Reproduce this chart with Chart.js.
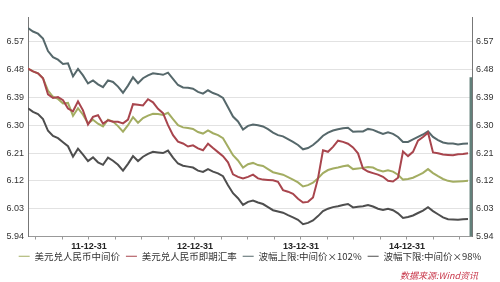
<!DOCTYPE html>
<html>
<head>
<meta charset="utf-8">
<script src="https://cdn.jsdelivr.net/npm/chart.js@4.4.1/dist/chart.umd.min.js"></script>
<style>
  html, body { margin: 0; padding: 0; background: #fff; }
  #wrap { width: 500px; height: 282px; position: relative; }
</style>
</head>
<body>
<div id="wrap"><canvas id="myChart"></canvas></div>
<script>
// x is counted in months from 2011-01, one sample about every 17 days
const firstMonth = 5.1;
const monthStep = 0.566;
const lastMonth = 55.36;

const seriesNames = ['美元兑人民币中间价', '美元兑人民币即期汇率', '波幅上限:中间价×102%', '波幅下限:中间价×98%'];

const midValues = [6.483,6.474,6.468,6.452,6.412,6.392,6.385,6.370,6.372,6.330,6.355,6.334,6.306,6.318,6.305,6.296,6.318,6.312,6.297,6.279,
  6.300,6.326,6.308,6.323,6.331,6.337,6.336,6.333,6.340,6.320,6.300,6.293,6.291,6.288,6.278,6.273,6.283,6.274,6.268,6.258,
  6.230,6.203,6.186,6.163,6.174,6.178,6.171,6.168,6.158,6.148,6.144,6.140,6.132,6.124,6.115,6.102,6.106,6.114,6.128,6.145,
  6.155,6.160,6.163,6.167,6.170,6.158,6.160,6.162,6.165,6.163,6.155,6.150,6.154,6.150,6.140,6.124,6.126,6.130,6.138,6.146,
  6.158,6.145,6.135,6.126,6.120,6.117,6.118,6.119,6.120];

const spotValues = [6.483,6.474,6.468,6.452,6.400,6.388,6.391,6.381,6.354,6.345,6.377,6.348,6.302,6.327,6.332,6.305,6.316,6.311,6.311,6.306,
  6.318,6.368,6.366,6.364,6.384,6.374,6.353,6.339,6.300,6.268,6.247,6.241,6.231,6.235,6.225,6.219,6.240,6.226,6.213,6.200,
  6.180,6.141,6.133,6.128,6.133,6.140,6.128,6.124,6.123,6.122,6.117,6.090,6.085,6.078,6.062,6.050,6.052,6.066,6.128,6.219,
  6.214,6.230,6.250,6.246,6.240,6.228,6.209,6.160,6.150,6.145,6.140,6.133,6.120,6.118,6.130,6.215,6.200,6.214,6.250,6.262,
  6.276,6.212,6.209,6.205,6.204,6.203,6.206,6.207,6.209];

const upperValues = [6.614,6.603,6.596,6.580,6.540,6.520,6.512,6.498,6.500,6.458,6.482,6.461,6.435,6.445,6.432,6.423,6.445,6.440,6.425,6.405,
  6.428,6.455,6.436,6.452,6.461,6.468,6.466,6.463,6.470,6.450,6.430,6.422,6.421,6.418,6.408,6.402,6.413,6.404,6.398,6.388,
  6.358,6.328,6.312,6.286,6.298,6.302,6.300,6.296,6.287,6.276,6.268,6.264,6.255,6.246,6.236,6.222,6.226,6.236,6.250,6.266,
  6.276,6.283,6.287,6.290,6.292,6.279,6.280,6.280,6.288,6.285,6.278,6.272,6.277,6.272,6.262,6.246,6.246,6.254,6.262,6.270,
  6.280,6.262,6.252,6.244,6.241,6.241,6.238,6.240,6.241];

const lowerValues = [6.355,6.343,6.336,6.320,6.282,6.265,6.258,6.245,6.232,6.198,6.224,6.205,6.184,6.196,6.180,6.172,6.195,6.185,6.172,6.153,
  6.175,6.200,6.184,6.198,6.207,6.214,6.212,6.210,6.218,6.195,6.176,6.169,6.166,6.163,6.153,6.149,6.158,6.150,6.144,6.135,
  6.106,6.080,6.064,6.042,6.052,6.056,6.050,6.045,6.035,6.025,6.021,6.017,6.009,6.002,5.994,5.980,5.984,5.992,6.006,6.022,
  6.030,6.035,6.038,6.042,6.045,6.034,6.036,6.038,6.042,6.037,6.030,6.026,6.030,6.025,6.015,6.000,6.003,6.008,6.016,6.024,
  6.035,6.022,6.012,6.002,5.996,5.995,5.994,5.996,5.997];

// the tall bar at the right edge of the picture
const edgeMonth = 55.25;
const edgeValues = [6.455, 5.94];

const yTicks = [5.94, 6.03, 6.12, 6.21, 6.30, 6.39, 6.48, 6.57];
const quarterMonths = [6, 9, 12, 15, 18, 21, 24, 27, 30, 33, 36, 39, 42, 45, 48, 51, 54];
const yearEndMonths = [12, 24, 36, 48];
const yearEndLabels = ['11-12-31', '12-12-31', '13-12-31', '14-12-31'];

const months = midValues.map((v, i) => firstMonth + i * monthStep);
const toPoints = (vals) => vals.map((v, i) => ({ x: months[i], y: v }));

const colors = ['#a3ad62', '#a8454d', '#56686b', '#4e4e4e'];

const sourceNote = {
  id: 'sourceNote',
  afterLayout(chart) {
    // pull the legend row up, closer to the date labels
    chart.legend.top -= 7;
    chart.legend.bottom -= 7;
  },
  afterDraw(chart) {
    const { ctx, chartArea } = chart;
    ctx.save();
    ctx.font = 'italic 9px "Noto Sans CJK SC"';
    ctx.fillStyle = '#c8374a';
    ctx.textAlign = 'right';
    ctx.textBaseline = 'middle';
    ctx.fillText('数据来源:Wind资讯', chartArea.right + 6, chart.height - 6);
    ctx.restore();
  }
};

const yAxis = (pos) => ({
  type: 'linear',
  position: pos,
  min: 5.94,
  max: 6.65,
  afterBuildTicks: (s) => { s.ticks = yTicks.map(v => ({ value: v })); },
  afterFit: (s) => { s.width = 28; },
  border: { color: '#777', width: 1 },
  grid: { color: '#e2e2e2', drawTicks: false, drawOnChartArea: pos === 'left' },
  ticks: {
    padding: 4,
    color: '#333',
    font: { family: 'Liberation Sans', size: 9 },
    callback: (v) => v.toFixed(2)
  }
});

const ctx = document.getElementById('myChart').getContext('2d');
new Chart(ctx, {
  type: 'line',
  data: {
    datasets: [
      { label: seriesNames[0], data: toPoints(midValues), borderColor: colors[0], backgroundColor: colors[0], order: 2 },
      { label: seriesNames[1], data: toPoints(spotValues), borderColor: colors[1], backgroundColor: colors[1], order: 1 },
      { label: seriesNames[2], data: toPoints(upperValues), borderColor: colors[2], backgroundColor: colors[2], order: 3 },
      { label: seriesNames[3], data: toPoints(lowerValues), borderColor: colors[3], backgroundColor: colors[3], order: 4 },
      { label: 'edge', data: edgeValues.map(v => ({ x: edgeMonth, y: v })), borderColor: '#62807a', backgroundColor: '#62807a', borderWidth: 3, order: 5 }
    ]
  },
  options: {
    responsive: true,
    maintainAspectRatio: false,
    animation: false,
    layout: { padding: { top: 17, left: 0, right: 0, bottom: 4 } },
    elements: {
      point: { radius: 0 },
      line: { borderWidth: 2, tension: 0 }
    },
    scales: {
      x: {
        type: 'linear',
        min: firstMonth,
        max: lastMonth,
        afterBuildTicks: (s) => { s.ticks = quarterMonths.map(v => ({ value: v })); },
        afterFit: (s) => { s.height = 16; },
        border: { color: '#999', width: 1 },
        grid: { drawOnChartArea: false, drawTicks: true, tickLength: 3, color: '#999' },
        ticks: {
          autoSkip: false,
          maxRotation: 0,
          padding: 2,
          color: '#222',
          font: { family: 'Liberation Sans', size: 9, weight: 'bold' },
          callback: (v) => {
            const k = yearEndMonths.indexOf(v);
            return k >= 0 ? yearEndLabels[k] : '';
          }
        }
      },
      y: yAxis('left'),
      y2: yAxis('right')
    },
    plugins: {
      legend: {
        position: 'bottom',
        labels: {
          filter: (item) => item.datasetIndex < 4,
          sort: (a, b) => a.datasetIndex - b.datasetIndex,
          usePointStyle: true,
          pointStyle: 'line',
          pointStyleWidth: 11,
          padding: 6,
          color: '#333',
          font: { family: 'Noto Sans CJK SC', size: 9.5 }
        }
      },
      tooltip: { enabled: false }
    }
  },
  plugins: [sourceNote]
});
</script>
</body>
</html>
